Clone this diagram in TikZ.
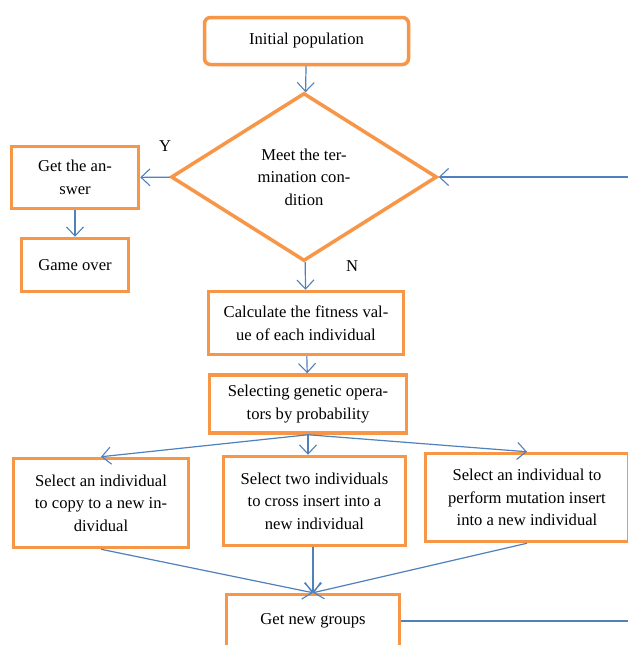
\documentclass[tikz,border=0pt]{standalone}
\usepackage{fontspec}
\setmainfont{Liberation Serif}
\usetikzlibrary{shapes.geometric,arrows.meta}
\definecolor{boxorange}{HTML}{F79646}
\definecolor{linkblue}{HTML}{4F81BD}
\begin{document}
\begin{tikzpicture}[x=1pt,y=-1pt,
  box/.style={draw=boxorange,line width=3.5pt,fill=white,inner sep=2pt,align=center,
    font=\fontsize{16.6}{22.5}\selectfont},
  decision/.style={diamond,draw=boxorange,line width=3.5pt,fill=white,inner sep=0pt,align=center,
    font=\fontsize{16.6}{22.5}\selectfont},
  link/.style={draw=linkblue,line width=1.2pt,-{Straight Barb[length=9pt,width=17pt,line width=1.1pt]}},
  lbl/.style={font=\fontsize{16.6}{18}\selectfont}]
\useasboundingbox (0,0) rectangle (628,645);
\fill[white] (0,0) rectangle (628,645);
\node[box,rounded corners=6pt,minimum width=204pt,minimum height=47pt] (init) at (306.5,41) {Initial population};
\node[decision,minimum width=266pt,minimum height=168pt] (dia) at (304,177) {Meet the ter-\\mination con-\\dition};
\node[box,minimum width=127pt,minimum height=62pt] (ans) at (75,177.5) {Get the an-\\swer};
\node[box,minimum width=107pt,minimum height=53pt] (over) at (75,265) {Game over};
\node[box,minimum width=195pt,minimum height=63pt] (calc) at (306,323) {Calculate the fitness val-\\ue of each individual};
\node[box,minimum width=197pt,minimum height=58pt] (sel) at (308,404) {Selecting genetic opera-\\tors by probability};
\node[box,minimum width=175pt,minimum height=89pt] (s1) at (101,503) {Select an individual\\to copy to a new in-\\dividual};
\node[box,minimum width=182pt,minimum height=89pt] (s2) at (314.5,501) {Select two individuals\\to cross insert into a\\new individual};
\node[box,minimum width=203pt,minimum height=88pt] (s3) at (527,497.5) {Select an individual to\\perform mutation insert\\into a new individual};
\node[box,minimum width=173pt,minimum height=53pt] (grp) at (313,621) {Get new groups};
\coordinate (edge) at (628.5,0);
\draw[link] (init) -- (dia);
\draw[link] (dia) -- (ans);
\draw[link] (ans) -- (over);
\draw[link] (dia) -- (calc);
\draw[link] (calc) -- (sel);
\draw[link] (sel.south) -- (s1.north);
\draw[link] (sel.south) -- (sel.south |- s2.north);
\draw[link] (sel.south) -- (s3.north);
\draw[link] (s1.south) -- (grp.north);
\draw[link] (s2.south -| grp.north) -- (grp.north);
\draw[link] (s3.south) -- (grp.north);
\draw[link] (grp.east) -- (grp.east -| edge) |- (dia.east);
\node[lbl] (y) at (165,146) {Y};
\node[lbl] (n) at (352,266) {N};
\end{tikzpicture}
\end{document}
